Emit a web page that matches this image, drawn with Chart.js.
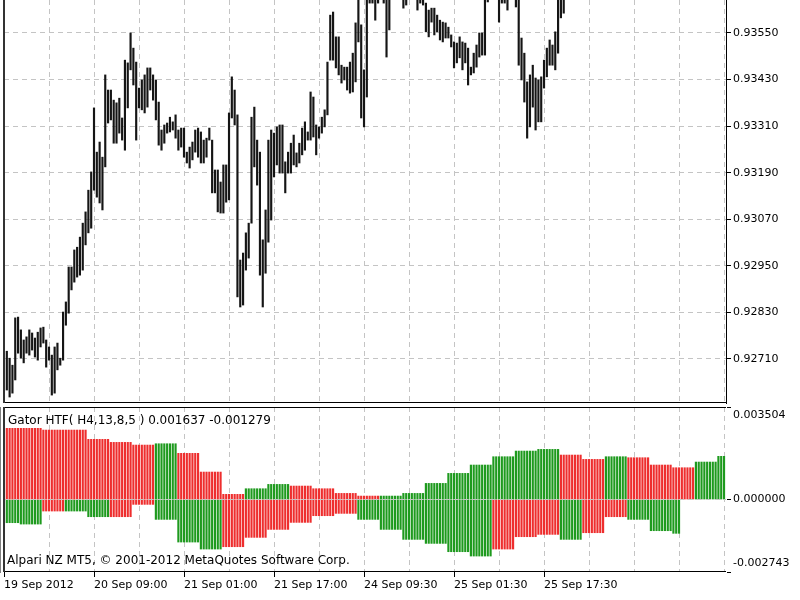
<!DOCTYPE html>
<html>
<head>
<meta charset="utf-8">
<script src="https://cdn.jsdelivr.net/npm/chart.js@4"></script>
<style>
  html, body { margin: 0; padding: 0; background: #fff; }
  #wrap { position: relative; width: 800px; height: 600px; overflow: hidden; }
  canvas { position: absolute; left: 0; }
  #priceChart { top: 0; }
  #gatorChart { top: 404px; }
</style>
</head>
<body>
<div id="wrap">
  <canvas id="priceChart" width="800" height="404"></canvas>
  <canvas id="gatorChart" width="800" height="196"></canvas>
</div>
<script>
// M30 bars, bar 1 = 19 Sep 2012 17:30; bars past 199 are above the visible price range
const barCount = 256;

const highs = [
  0.92730, 0.92712, 0.92694, 0.92816, 0.92818, 0.92785, 0.92759, 0.92767, 0.92785, 0.92777,
  0.92764, 0.92779, 0.92790, 0.92792, 0.92759, 0.92741, 0.92720, 0.92741, 0.92751, 0.92712,
  0.92831, 0.92857, 0.92947, 0.92947, 0.92991, 0.92998, 0.93024, 0.93060, 0.93089, 0.93145,
  0.93192, 0.93357, 0.93243, 0.93269, 0.93230, 0.93442, 0.93403, 0.93403, 0.93377, 0.93370,
  0.93382, 0.93331, 0.93480, 0.93473, 0.93550, 0.93511, 0.93475, 0.93408, 0.93429, 0.93442,
  0.93460, 0.93460, 0.93442, 0.93429, 0.93372, 0.93300, 0.93313, 0.93318, 0.93333, 0.93321,
  0.93339, 0.93300, 0.93305, 0.93305, 0.93243, 0.93256, 0.93269, 0.93300, 0.93305, 0.93295,
  0.93274, 0.93279, 0.93305, 0.93274, 0.93197, 0.93197, 0.93166, 0.93210, 0.93210, 0.93344,
  0.93437, 0.93403, 0.93339, 0.92965, 0.92983, 0.93035, 0.93060, 0.93333, 0.93359, 0.93274,
  0.93243, 0.93017, 0.93094, 0.93274, 0.93300, 0.93292, 0.93308, 0.93313, 0.93313, 0.93218,
  0.93243, 0.93266, 0.93287, 0.93241, 0.93266, 0.93305, 0.93321, 0.93295, 0.93398, 0.93385,
  0.93313, 0.93308, 0.93333, 0.93352, 0.93475, 0.93596, 0.93604, 0.93540, 0.93540, 0.93467,
  0.93462, 0.93462, 0.93475, 0.93498, 0.93576, 0.93660, 0.93571, 0.93455, 0.93660, 0.93660,
  0.93660, 0.93660, 0.93660, null, 0.93660, 0.93660, 0.93660, null, null, null,
  null, 0.93660, 0.93660, null, null, null, 0.93660, 0.93660, 0.93660, 0.93627,
  0.93609, 0.93614, 0.93614, 0.93596, 0.93583, 0.93578, 0.93576, 0.93565, 0.93545, 0.93527,
  0.93524, 0.93540, 0.93527, 0.93524, 0.93511, 0.93462, 0.93498, 0.93519, 0.93550, 0.93550,
  0.93660, 0.93660, null, null, null, 0.93660, 0.93660, 0.93660, 0.93660, null,
  null, 0.93660, 0.93660, 0.93537, 0.93498, 0.93424, 0.93442, 0.93467, 0.93434, 0.93429,
  0.93437, 0.93480, 0.93511, 0.93532, 0.93519, 0.93553, 0.93660, 0.93660, 0.93660
];

const lows = [
  0.92630, 0.92612, 0.92622, 0.92656, 0.92725, 0.92712, 0.92700, 0.92725, 0.92720, 0.92733,
  0.92715, 0.92707, 0.92741, 0.92751, 0.92689, 0.92707, 0.92617, 0.92622, 0.92682, 0.92694,
  0.92707, 0.92797, 0.92828, 0.92888, 0.92908, 0.92921, 0.92926, 0.92939, 0.93004, 0.93035,
  0.93047, 0.93145, 0.93127, 0.93112, 0.93094, 0.93205, 0.93318, 0.93326, 0.93266, 0.93266,
  0.93292, 0.93274, 0.93248, 0.93357, 0.93455, 0.93416, 0.93274, 0.93357, 0.93352, 0.93344,
  0.93359, 0.93403, 0.93377, 0.93326, 0.93261, 0.93248, 0.93266, 0.93292, 0.93295, 0.93300,
  0.93279, 0.93248, 0.93256, 0.93230, 0.93215, 0.93202, 0.93223, 0.93243, 0.93230, 0.93215,
  0.93215, 0.93230, 0.93274, 0.93138, 0.93138, 0.93089, 0.93086, 0.93086, 0.93114, 0.93120,
  0.93331, 0.93313, 0.92870, 0.92844, 0.92849, 0.92939, 0.92970, 0.93060, 0.93205, 0.93158,
  0.92926, 0.92844, 0.92931, 0.93011, 0.93068, 0.93179, 0.93210, 0.93189, 0.93189, 0.93138,
  0.93189, 0.93189, 0.93210, 0.93205, 0.93215, 0.93236, 0.93248, 0.93274, 0.93274, 0.93282,
  0.93236, 0.93279, 0.93292, 0.93308, 0.93339, 0.93480, 0.93480, 0.93460, 0.93442, 0.93421,
  0.93429, 0.93403, 0.93395, 0.93398, 0.93424, 0.93527, 0.93331, 0.93308, 0.93385, 0.93627,
  0.93627, 0.93583, 0.93627, null, 0.93627, 0.93488, 0.93558, null, null, null,
  null, 0.93614, 0.93622, null, null, null, 0.93609, 0.93627, 0.93622, 0.93553,
  0.93540, 0.93578, 0.93545, 0.93553, 0.93532, 0.93527, 0.93537, 0.93537, 0.93514, 0.93460,
  0.93473, 0.93486, 0.93455, 0.93473, 0.93416, 0.93442, 0.93447, 0.93462, 0.93488, 0.93493,
  0.93493, 0.93630, null, null, null, 0.93578, 0.93627, 0.93627, 0.93609, null,
  null, 0.93617, 0.93467, 0.93429, 0.93372, 0.93279, 0.93308, 0.93359, 0.93300, 0.93321,
  0.93321, 0.93408, 0.93437, 0.93467, 0.93467, 0.93455, 0.93498, 0.93589, 0.93601
];

const priceTicks = [0.92710, 0.92830, 0.92950, 0.93070, 0.93190, 0.93310, 0.93430, 0.93550];
const priceMin = 0.925966;
const priceMax = 0.936350;

// one label every 32 bars, starting at the left edge
const timeLabels = ['19 Sep 2012', '20 Sep 09:00', '21 Sep 01:00', '21 Sep 17:00',
                    '24 Sep 09:30', '25 Sep 01:30', '25 Sep 17:30'];

// Gator HTF: each H4 value covers a run of M30 bars
const runBars = [5,
  8, 8, 8, 8, 8, 8, 8, 8, 8, 8, 8, 8, 8, 8, 8, 8, 8, 8, 8, 8, 8, 8, 8, 8, 8, 8, 8, 8, 8,
  3, 5, 8, 3];
const gatorUpper = [0.002696, 0.002696, 0.002631, 0.002631, 0.002279, 0.002165, 0.002063, 0.002113,
  0.001749, 0.001041, 0.000197, 0.000410, 0.000574, 0.000511, 0.000410, 0.000233, 0.000132, 0.000132,
  0.000233, 0.000612, 0.000991, 0.001307, 0.001622, 0.001836, 0.001900, 0.001685, 0.001521, 0.001622,
  0.001584, 0.001307, 0.001205, 0.001205, 0.001420, 0.001637];
const upperRising = [0, 0, 0, 0, 0, 0, 0, 1, 0, 0, 0, 1, 1, 0, 0, 0, 0, 1,
  1, 1, 1, 1, 1, 1, 1, 0, 0, 1, 0, 0, 0, 0, 1, 1];
const gatorLower = [-0.000877, -0.000928, -0.000435, -0.000435, -0.000650, -0.000650, -0.000183, -0.000751,
  -0.001609, -0.001874, -0.001786, -0.001432, -0.001130, -0.000865, -0.000612, -0.000524, -0.000751, -0.001130,
  -0.001508, -0.001660, -0.001975, -0.002139, -0.001874, -0.001407, -0.001319, -0.001508, -0.001256, -0.000650,
  -0.000751, -0.001180, -0.001279, null, null, null];
const lowerRising = [1, 1, 0, 1, 1, 0, 0, 1, 1, 1, 0, 0, 0, 0, 0, 0, 1, 1,
  1, 1, 1, 1, 0, 0, 0, 1, 0, 0, 1, 1, 1, 0, 0, 0];
const gatorTicks = [0.003504, 0, -0.002743];
const gatorMin = -0.002743;
const gatorMax = 0.003504;

const gatorTitle = 'Gator HTF( H4,13,8,5 ) 0.001637 -0.001279';
const copyright = 'Alpari NZ MT5, \u00A9 2001-2012 MetaQuotes Software Corp.';

const barsPerGrid = 16;
const xMax = 256.7;
const gridColor = '#c4c4c4';
const gridDash = [5, 4];
const upColor = '#1e9a1e';
const downColor = '#ee2e2e';

Chart.defaults.font.family = '"DejaVu Sans", sans-serif';
Chart.defaults.font.size = 11;
Chart.defaults.color = '#000';

const barNumbers = Array.from({ length: barCount }, (_, i) => i + 1);

const priceBars = highs.map((h, k) => (h === null ? null : [lows[k], h]));

const upperBars = [], lowerBars = [], upperCols = [], lowerCols = [];
runBars.forEach((n, r) => {
  for (let k = 0; k < n; k++) {
    upperBars.push(gatorUpper[r]);
    lowerBars.push(gatorLower[r]);
    upperCols.push(upperRising[r] ? upColor : downColor);
    lowerCols.push(lowerRising[r] ? upColor : downColor);
  }
});

function gridTicks(scale) {
  const ticks = [];
  for (let v = 0; v <= xMax; v += barsPerGrid) ticks.push({ value: v });
  scale.ticks = ticks;
}

function timeLabel(v) {
  if (v % (barsPerGrid * 2) !== 0) return '';
  return timeLabels[v / (barsPerGrid * 2)] || '';
}

// frame lines around a plot panel
const framePlugin = {
  id: 'frame',
  afterDraw(chart, args, opts) {
    const { ctx, chartArea: a } = chart;
    ctx.save();
    ctx.strokeStyle = '#000';
    ctx.lineWidth = 1;
    ctx.beginPath();
    if (opts.top) {
      ctx.moveTo(a.left, a.top + 0.5);
      ctx.lineTo(a.right, a.top + 0.5);
    }
    ctx.moveTo(a.left, a.bottom - 0.5);
    ctx.lineTo(a.right, a.bottom - 0.5);
    ctx.stroke();
    ctx.lineWidth = 2;
    ctx.strokeStyle = '#333';
    ctx.beginPath();
    ctx.moveTo(a.left, a.top);
    ctx.lineTo(a.left, a.bottom);
    ctx.stroke();
    ctx.restore();
  }
};

// indicator caption, copyright and the clamped min / max labels of the sub-window
const gatorText = {
  id: 'gatorText',
  afterDraw(chart) {
    const { ctx, chartArea: a } = chart;
    const ys = chart.scales.y;
    ctx.save();
    ctx.fillStyle = '#000';
    ctx.textBaseline = 'middle';
    ctx.textAlign = 'left';
    ctx.font = '12px "DejaVu Sans"';
    ctx.fillText(gatorTitle, a.left + 4, a.top + 14);
    ctx.fillText(copyright, a.left + 3, a.bottom - 11);
    ctx.font = '11px "DejaVu Sans"';
    gatorTicks.forEach(v => {
      let y = ys.getPixelForValue(v);
      y = Math.min(Math.max(y, a.top + 8), a.bottom - 9);
      ctx.fillText(v.toFixed(6), a.right + 7, y);
    });
    ctx.restore();
  }
};

new Chart(document.getElementById('priceChart'), {
  type: 'bar',
  data: {
    labels: barNumbers,
    datasets: [{
      data: priceBars,
      backgroundColor: '#151515',
      barThickness: 1.5,
      clip: 0
    }]
  },
  options: {
    responsive: false,
    animation: false,
    layout: { padding: { left: 4, top: 0, right: 0, bottom: 1 } },
    plugins: { legend: { display: false }, tooltip: { enabled: false }, frame: { top: false } },
    scales: {
      x: {
        type: 'linear', min: 0, max: xMax, offset: false,
        afterBuildTicks: gridTicks,
        afterFit: s => { s.height = 0; s.paddingLeft = 0; s.paddingRight = 0; },
        ticks: { display: false },
        grid: { offset: false, color: gridColor, drawTicks: false },
        border: { display: false, dash: gridDash }
      },
      y: {
        position: 'right', min: priceMin, max: priceMax,
        afterBuildTicks: s => { s.ticks = priceTicks.map(v => ({ value: v })); },
        afterFit: s => { s.width = 74; s.paddingTop = 0; s.paddingBottom = 0; },
        ticks: { padding: 2, autoSkip: false, callback: v => Number(v).toFixed(5) },
        grid: { color: gridColor, tickColor: '#000', tickLength: 5 },
        border: { display: true, color: '#000', width: 1, dash: gridDash }
      }
    }
  },
  plugins: [framePlugin]
});

new Chart(document.getElementById('gatorChart'), {
  type: 'bar',
  data: {
    labels: barNumbers,
    datasets: [
      { data: upperBars, backgroundColor: upperCols, barThickness: 1.5, grouped: false, clip: 0 },
      { data: lowerBars, backgroundColor: lowerCols, barThickness: 1.5, grouped: false, clip: 0 }
    ]
  },
  options: {
    responsive: false,
    animation: false,
    layout: { padding: { left: 4, top: 3, right: 0, bottom: 0 } },
    plugins: { legend: { display: false }, tooltip: { enabled: false }, frame: { top: true } },
    scales: {
      x: {
        type: 'linear', min: 0, max: xMax, offset: false,
        afterBuildTicks: gridTicks,
        afterFit: s => { s.height = 28; s.paddingLeft = 0; s.paddingRight = 0; },
        ticks: { align: 'start', maxRotation: 0, autoSkip: false, padding: 2, callback: v => timeLabel(v) },
        grid: {
          offset: false, color: gridColor, tickLength: 5,
          tickColor: c => (c.tick && timeLabel(c.tick.value) ? '#000' : 'rgba(0,0,0,0)')
        },
        border: { display: false, dash: gridDash }
      },
      y: {
        position: 'right', min: gatorMin, max: gatorMax,
        afterBuildTicks: s => { s.ticks = gatorTicks.map(v => ({ value: v })); },
        afterFit: s => { s.width = 74; s.paddingTop = 0; s.paddingBottom = 0; },
        ticks: { display: false },
        grid: {
          color: c => (c.tick && c.tick.value === 0 ? gridColor : 'rgba(0,0,0,0)'),
          tickColor: '#000', tickLength: 5, z: 1
        },
        border: { display: true, color: '#000', width: 1, dash: gridDash }
      }
    }
  },
  plugins: [framePlugin, gatorText]
});
</script>
</body>
</html>
